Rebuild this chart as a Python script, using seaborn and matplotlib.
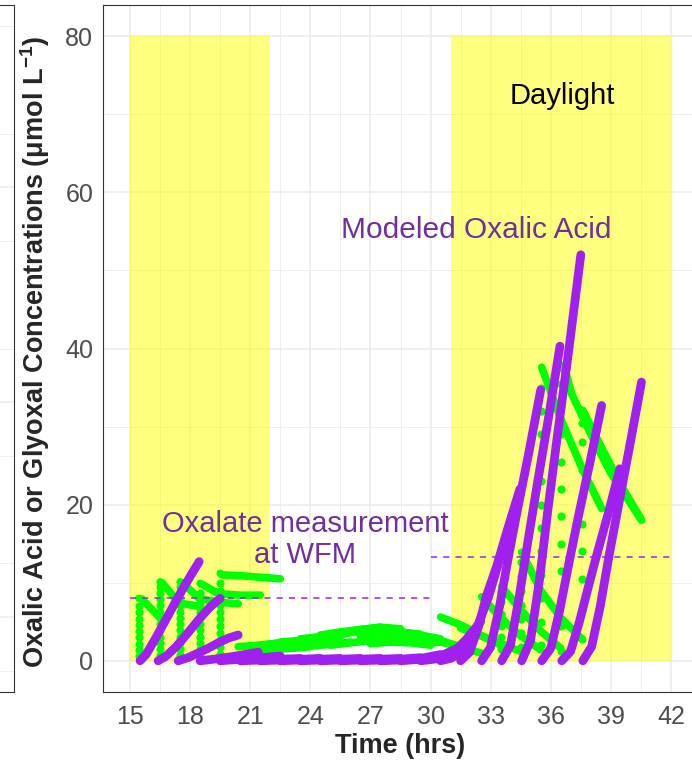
import matplotlib
matplotlib.use("Agg")
import matplotlib.pyplot as plt
from matplotlib.ticker import MultipleLocator
import seaborn as sns
import pandas as pd

# ---------------- data ----------------
x_ticks = [15, 18, 21, 24, 27, 30, 33, 36, 39, 42]
y_ticks = [0, 20, 40, 60, 80]
daylight_spans = [(15, 22), (31, 42)]
daylight_top = 80
oxalate_meas_x = [[15, 30], [30, 42]]
oxalate_meas_y = [8.0, 13.3]

# modeled oxalic acid trajectories (purple)
purple_t = [
    [15.5, 15.8, 16.3, 16.9, 17.5, 18.0, 18.45],
    [16.4, 16.8, 17.3, 17.9, 18.5, 19.0, 19.5],
    [17.4, 17.9, 18.4, 18.9, 19.4, 19.9, 20.4],
    [18.5, 19.5, 20.5, 21.4],
    [19.5, 20.5, 21.5, 22.5],
    [20.5, 21.5, 22.5, 23.5],
    [21.5, 22.5, 23.5, 24.5],
    [22.5, 23.5, 24.5, 25.5],
    [23.5, 24.5, 25.5, 26.5],
    [24.5, 25.5, 26.5, 27.5],
    [25.5, 26.5, 27.5, 28.5],
    [26.5, 27.5, 28.5, 29.5],
    [27.5, 28.5, 29.5, 30.5],
    [28.5, 29.5, 30.5, 31.5],
    [29.5, 30.5, 31.2, 31.8, 32.5],
    [30.5, 31.0, 31.5, 32.0, 32.4, 32.9, 33.55],
    [31.5, 31.95, 32.4, 32.8, 33.3, 33.85, 34.46],
    [32.55, 32.99, 33.44, 33.88, 34.32, 34.91, 35.5],
    [33.55, 33.99, 34.42, 34.86, 35.3, 35.88, 36.46],
    [34.55, 34.99, 35.44, 35.88, 36.32, 36.91, 37.5],
    [35.55, 36.0, 36.45, 36.9, 37.34, 37.94, 38.54],
    [36.55, 36.99, 37.42, 37.86, 38.29, 38.87, 39.45],
    [37.6, 38.04, 38.48, 38.92, 39.36, 39.94, 40.53],
]
purple_v = [
    [0, 0.8, 3.0, 5.8, 8.6, 10.8, 12.7],
    [0, 0.6, 1.8, 3.6, 5.5, 6.9, 8.0],
    [0, 0.4, 1.0, 1.6, 2.3, 2.9, 3.3],
    [0, 0.3, 0.7, 1.1],
    [0, 0.2, 0.4, 0.6],
    [0, 0.1, 0.2, 0.3],
    [0, 0.1, 0.2, 0.3],
    [0, 0.1, 0.2, 0.3],
    [0, 0.1, 0.2, 0.3],
    [0, 0.1, 0.2, 0.3],
    [0, 0.1, 0.2, 0.3],
    [0, 0.1, 0.2, 0.4],
    [0, 0.1, 0.3, 0.8],
    [0, 0.2, 0.6, 1.8],
    [0, 0.3, 1.2, 2.8, 5.0],
    [0, 0.3, 1.0, 2.6, 4.8, 8.2, 13.9],
    [0, 1.1, 4.4, 8.4, 12.1, 16.9, 22.0],
    [0, 1.7, 6.9, 13.2, 19.1, 26.7, 34.7],
    [0, 2.0, 8.1, 15.3, 22.2, 31.0, 40.3],
    [0, 2.6, 10.4, 19.8, 28.6, 40.0, 52.0],
    [0, 1.6, 6.5, 12.4, 18.0, 25.2, 32.7],
    [0, 1.2, 4.9, 9.3, 13.5, 18.9, 24.6],
    [0, 1.8, 7.1, 13.6, 19.6, 27.5, 35.7],
]

# glyoxal trajectories (green lines)
green_t = [
    [15.45, 15.6, 16.45],
    [16.5, 16.6, 17.45, 18.4],
    [17.5, 17.6, 18.45, 19.4, 20.4],
    [18.5, 18.6, 19.4, 20.5, 21.5],
    [19.5, 19.6, 20.5, 21.5, 22.5],
    [20.4, 21.5, 22.6],
    [21.5, 22.5, 23.5, 24.5],
    [22.5, 23.5, 24.5, 25.5],
    [23.5, 24.5, 25.5, 26.5],
    [24.5, 25.5, 26.5, 27.5],
    [25.5, 26.5, 27.5, 28.5],
    [26.5, 27.5, 28.5, 29.5],
    [27.5, 28.5, 29.5, 30.5],
    [28.5, 29.5, 30.5, 31.5],
    [29.5, 30.5, 31.5, 32.5],
    [21.0, 22.0, 23.0, 24.0],
    [23.0, 24.0, 25.0, 26.0],
    [25.0, 26.0, 27.0, 28.0],
    [27.0, 28.0, 29.0, 30.0],
    [30.5, 31.5, 32.5, 33.5],
    [31.5, 32.5, 33.5, 34.5],
    [32.55, 33.5, 34.5, 35.5],
    [33.55, 34.5, 35.5, 36.5],
    [34.55, 35.5, 36.5, 37.55],
    [35.55, 35.7, 36.5, 37.5, 38.54],
    [36.55, 36.8, 37.04, 38.0, 39.0, 40.53],
    [37.6, 38.5, 39.5, 40.5],
]
green_v = [
    [8.0, 7.9, 5.6],
    [10.1, 10.0, 7.4, 7.0],
    [10.1, 10.0, 8.0, 7.5, 7.3],
    [9.9, 9.8, 8.6, 8.4, 8.4],
    [11.2, 11.0, 10.9, 10.7, 10.5],
    [1.8, 2.0, 2.3],
    [2.0, 2.3, 2.4, 2.6],
    [2.4, 2.6, 2.9, 3.1],
    [2.8, 3.1, 3.4, 3.8],
    [3.3, 3.7, 4.0, 4.3],
    [3.6, 4.0, 4.3, 4.1],
    [3.2, 3.5, 3.7, 3.4],
    [2.8, 3.2, 3.3, 2.8],
    [2.5, 2.8, 2.6, 1.8],
    [2.2, 2.4, 1.8, 1.0],
    [1.3, 1.4, 1.6, 1.8],
    [1.6, 1.9, 2.1, 2.4],
    [2.0, 2.3, 2.6, 2.8],
    [2.2, 2.4, 2.3, 2.0],
    [5.6, 4.6, 3.3, 2.0],
    [4.2, 3.2, 2.2, 1.2],
    [8.2, 5.5, 3.2, 1.4],
    [9.5, 6.5, 3.8, 1.6],
    [13.9, 9.0, 5.5, 2.8],
    [37.6, 36.5, 31.0, 25.0, 19.5],
    [37.8, 36.5, 34.2, 29.0, 24.0, 18.0],
    [32.1, 27.5, 22.5, 18.2],
]

# sparse initial glyoxal points (green dot columns)
dot_t = [15.45, 16.5, 17.5, 18.5, 19.5, 33.5, 34.5, 35.53, 36.53, 37.55]
dot_v = [
    [0.6, 1.4, 2.2, 3.0, 3.8, 4.6, 5.4, 6.2, 7.0],
    [0.7, 1.5, 2.3, 3.1, 3.9, 4.7, 5.5, 6.3, 7.1, 7.9, 8.7, 9.5],
    [0.7, 1.5, 2.3, 3.1, 3.9, 4.7, 5.5, 6.3, 7.1, 7.9, 8.7, 9.5],
    [0.7, 1.5, 2.3, 3.1, 3.9, 4.7, 5.5, 6.3, 7.1, 7.9, 8.7],
    [0.9, 1.8, 2.7, 3.6, 4.5, 5.4, 6.3, 7.2, 8.1, 9.0, 9.9],
    [1.5, 3.0, 4.5, 6.0, 7.5, 9.0],
    [1.8, 3.6, 5.4, 7.2, 9.0, 10.8, 12.6],
    [2.0, 5.0, 8.0, 11.0, 14.0, 17.0, 20.0, 23.0, 26.0, 29.0, 32.0, 35.0],
    [1.2, 4.5, 8.0, 11.5, 15.0, 18.5, 22.0, 25.5, 29.0, 32.5, 35.5],
    [2.8, 6.5, 10.5, 14.0, 17.5, 21.0, 24.5, 28.0, 30.5],
]

# ---------------- tables ----------------
def long_table(ts, vs):
    rows = []
    for i, (t, v) in enumerate(zip(ts, vs)):
        for a, b in zip(t, v):
            rows.append((i, a, b))
    return pd.DataFrame(rows, columns=["run", "time", "conc"])

df_purple = long_table(purple_t, purple_v)
df_green = long_table(green_t, green_v)
df_dots = pd.DataFrame(
    [(t, v) for t, vals in zip(dot_t, dot_v) for v in vals], columns=["time", "conc"]
)

# ---------------- style ----------------
sns.set_theme(style="white")
plt.rcParams["font.family"] = ["Liberation Sans", "DejaVu Sans"]
plt.rcParams["mathtext.fontset"] = "custom"
plt.rcParams["mathtext.rm"] = "Liberation Sans"
plt.rcParams["mathtext.bf"] = "Liberation Sans:bold"
plt.rcParams["lines.solid_capstyle"] = "round"
plt.rcParams["lines.solid_joinstyle"] = "round"

W, H = 692, 762
fig = plt.figure(figsize=(W / 100, H / 100), dpi=100)

PURPLE = "#A020F0"
GREEN = "#00FF00"
TEXT_PURPLE = "#7030A0"
GRID = "#EBEBEB"
BORDER = "#333333"
TICKLAB = "#4D4D4D"

xlim = (13.65, 43.35)
ylim = (-4, 84)

# partial neighbouring panel at the left edge
axl = fig.add_axes([(14 - 595) / W, 1 - 692 / H, 595 / W, 687 / H])
axl.set_xlim(xlim)
axl.set_ylim(-0.2, 6.2)
axl.set_xticks([42])
axl.set_xticklabels(["42"], fontsize=18, color=TICKLAB)
axl.set_yticks([0.5, 2.5, 4.5])
axl.yaxis.set_minor_locator(MultipleLocator(1))
axl.set_yticklabels([])
axl.tick_params(axis="x", length=4, color=BORDER, width=0.8, pad=5)
axl.tick_params(axis="y", length=0)
axl.grid(True, which="major", color=GRID, lw=1.1)
axl.grid(True, which="minor", axis="y", color=GRID, lw=0.6)
for s in axl.spines.values():
    s.set_color(BORDER)
    s.set_linewidth(0.8)

# main panel
ax = fig.add_axes([103 / W, 1 - 692 / H, 595 / W, 687 / H])
ax.set_xlim(xlim)
ax.set_ylim(ylim)
ax.set_axisbelow(True)
ax.set_xticks(x_ticks)
ax.set_yticks(y_ticks)
ax.xaxis.set_minor_locator(MultipleLocator(1.5))
ax.yaxis.set_minor_locator(MultipleLocator(10))
ax.grid(True, which="major", color=GRID, lw=1.1)
ax.grid(True, which="minor", color=GRID, lw=0.6)
ax.tick_params(axis="both", which="major", length=4, color=BORDER, width=0.8,
               labelsize=18, labelcolor=TICKLAB)
ax.tick_params(axis="x", which="major", pad=5)
ax.tick_params(axis="y", which="major", pad=3)
ax.tick_params(axis="both", which="minor", length=0)
for s in ax.spines.values():
    s.set_color(BORDER)
    s.set_linewidth(0.8)

for x0, x1 in daylight_spans:
    ax.fill_between([x0, x1], 0, daylight_top, color="yellow", alpha=0.5, lw=0, zorder=1)

sns.lineplot(data=df_green, x="time", y="conc", units="run", estimator=None,
             sort=False, color=GREEN, lw=5.5, ax=ax, zorder=3, legend=False)
sns.scatterplot(data=df_dots, x="time", y="conc", color=GREEN, s=34,
                linewidth=0, ax=ax, zorder=3, legend=False)
sns.lineplot(data=df_purple, x="time", y="conc", units="run", estimator=None,
             sort=False, color=PURPLE, lw=6.3, ax=ax, zorder=4, legend=False)

for xs, yv in zip(oxalate_meas_x, oxalate_meas_y):
    ax.plot(xs, [yv, yv], color=PURPLE, lw=1.1, dashes=(4, 4), zorder=5,
            solid_capstyle="butt", dash_capstyle="butt")

ax.set_xlabel("")
ax.set_ylabel("")

ax.text(36.6, 72.3, "Daylight", fontsize=21, color="black", ha="center", va="center", zorder=6)
ax.text(32.27, 55.2, "Modeled Oxalic Acid", fontsize=21.5, color=TEXT_PURPLE,
        ha="center", va="center", zorder=6)
ax.text(23.73, 15.5, "Oxalate measurement\nat WFM", fontsize=21, color=TEXT_PURPLE,
        ha="center", va="center", zorder=6, linespacing=1.15)

fig.text(400.5 / W, 1 - 746 / H, "Time (hrs)", fontsize=19.5, fontweight="bold",
         ha="center", va="center")
fig.text(35 / W, 1 - 351.5 / H,
         r"Oxalic Acid or Glyoxal Concentrations (μmol L$^{\mathbf{-1}}$)",
         fontsize=19.5, fontweight="bold", rotation=90, ha="center", va="center")

fig.savefig("out.png", dpi=100)
